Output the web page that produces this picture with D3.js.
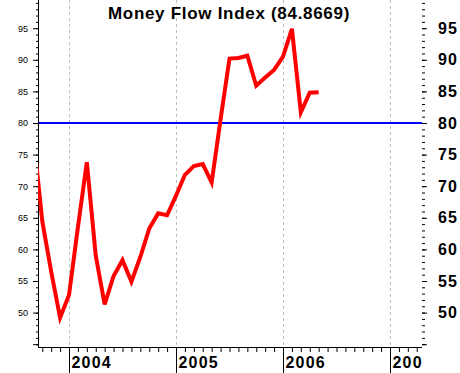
<!DOCTYPE html>
<html>
<head>
<meta charset="utf-8">
<script src="https://cdn.jsdelivr.net/npm/d3@7"></script>
<style>
    body { margin: 0; background: #fff; }
    svg { display: block; font-family: Arial, "Liberation Sans", sans-serif; }
</style>
</head>
<body>
<div id="chart"></div>
<script>
// monthly readings of the money flow index
const months = ['2003-09', '2003-10', '2003-11', '2003-12',
    '2004-01', '2004-02', '2004-03', '2004-04', '2004-05', '2004-06',
    '2004-07', '2004-08', '2004-09', '2004-10', '2004-11', '2004-12',
    '2005-01', '2005-02', '2005-03', '2005-04', '2005-05', '2005-06',
    '2005-07', '2005-08', '2005-09', '2005-10', '2005-11', '2005-12',
    '2006-01', '2006-02', '2006-03', '2006-04', '2006-05']
const mfi = [78.0, 64.5, 56.5, 49.2,
    52.8, 63.5, 73.8, 59.0, 51.3, 55.8,
    58.3, 54.9, 58.8, 63.3, 65.7, 65.4,
    68.5, 71.8, 73.2, 73.5, 70.6, 80.6,
    90.2, 90.3, 90.65, 85.9, 87.2, 88.4,
    90.5, 94.9, 81.7, 84.8, 84.8669]
const yearTicks = ['2004', '2005', '2006', '2007']
const valueTicks = [45, 50, 55, 60, 65, 70, 75, 80, 85, 90, 95]
const refLevel = 80
const title = 'Money Flow Index (84.8669)'

const monthIndex = (s) => {
    const [yy, mm] = s.split('-').map(Number)
    return (yy - 2004) * 12 + (mm - 1)
}

class MfiChart {

    constructor(container) {
        this.container = container
        this.svg = d3.select(container).append('svg')
        this.width = 460
        this.height = 373
        this.left = 38
        this.right = 422
        this.top = 0
        this.bottom = 347
        this.draw()
    }

    draw() {
        this.svg.attr('width', this.width).attr('height', this.height)

        this.svg.append('defs').append('clipPath')
            .attr('id', 'plotClip')
            .append('rect')
            .attr('x', this.left)
            .attr('y', this.top)
            .attr('width', this.right - this.left)
            .attr('height', this.bottom - this.top)

        this.svg.select('defs').append('clipPath')
            .attr('id', 'yearClip')
            .append('rect')
            .attr('x', 0)
            .attr('y', 0)
            .attr('width', this.right)
            .attr('height', this.height)

        this.generateScales()
        this.drawGrid()
        this.generateAxis()
        this.drawLine()

        this.svg.append('text')
            .text(title)
            .attr('x', 229)
            .attr('y', 19)
            .attr('text-anchor', 'middle')
            .style('font-size', '17px')
            .style('font-weight', 'bold')
            .style('letter-spacing', '0.7px')
            .attr('fill', '#000')
    }

    generateScales() {
        // one year = 107px, Jan 2004 sits at x=69
        this.xScale = d3.scaleLinear().domain([0, 12]).range([69, 176])
        this.xScale.domain([this.xScale.invert(this.left), this.xScale.invert(this.right)])
            .range([this.left, this.right])

        this.yScale = d3.scaleLinear().domain([80, 95]).range([123, 28.2])
    }

    drawGrid() {
        const x = this.xScale
        this.svg.append('g')
            .attr('class', 'grid')
            .selectAll('line')
            .data(yearTicks)
            .enter()
            .append('line')
            .attr('x1', (d) => Math.floor(x(monthIndex(d + '-01'))) + 0.5)
            .attr('x2', (d) => Math.floor(x(monthIndex(d + '-01'))) + 0.5)
            .attr('y1', this.top)
            .attr('y2', this.bottom)
            .attr('stroke', '#c0c0c0')
            .attr('stroke-dasharray', '3,3')

        this.svg.append('line')
            .attr('x1', this.left)
            .attr('x2', this.right)
            .attr('y1', this.yScale(refLevel))
            .attr('y2', this.yScale(refLevel))
            .attr('stroke', '#0000ff')
            .attr('stroke-width', 2)
    }

    generateAxis() {
        const y = this.yScale
        const x = this.xScale
        const minor = d3.range(45, 100)

        // left: small labels
        const leftMinor = d3.axisLeft(y).tickValues(minor).tickSize(2).tickFormat('')
        const leftMajor = d3.axisLeft(y).tickValues(valueTicks).tickSize(5)
            .tickPadding(5)
            .tickFormat((d) => d === 45 ? '' : d)

        const gl = this.svg.append('g').attr('id', 'y-axis-left')
            .attr('transform', `translate(${this.left}, 0)`)
        gl.append('g').call(leftMinor)
        gl.append('g').call(leftMajor)
            .selectAll('text')
            .style('font-size', '9px')
            .style('font-family', 'Arial, "Liberation Sans", sans-serif')
            .attr('fill', '#000')
        gl.selectAll('.domain').remove()
        gl.append('line')
            .attr('x1', 0.5).attr('x2', 0.5)
            .attr('y1', this.top).attr('y2', this.bottom + 1)
            .attr('stroke', '#000')

        // right: big bold labels, no spine
        const rightMinor = d3.axisRight(y).tickValues(minor).tickSize(3).tickFormat('')
        const rightMajor = d3.axisRight(y).tickValues(valueTicks).tickSize(5)
            .tickPadding(11)
            .tickFormat((d) => d === 45 ? '' : d)

        const gr = this.svg.append('g').attr('id', 'y-axis-right')
            .attr('transform', `translate(${this.right}, 0)`)
        gr.append('g').call(rightMinor)
        gr.append('g').call(rightMajor)
            .selectAll('text')
            .style('font-size', '16px')
            .style('font-weight', 'bold')
            .style('letter-spacing', '1.2px')
            .style('font-family', 'Arial, "Liberation Sans", sans-serif')
            .attr('fill', '#000')
        gr.selectAll('.domain').remove()

        // bottom: month ticks plus long year ticks
        const monthAxis = d3.axisBottom(x).tickValues(d3.range(-3, 40)).tickSize(5).tickFormat('')
        const yearAxis = d3.axisBottom(x)
            .tickValues(yearTicks.map((d) => monthIndex(d + '-01')))
            .tickSize(26)
            .tickFormat((d, i) => yearTicks[i])

        const gb = this.svg.append('g').attr('id', 'x-axis')
            .attr('transform', `translate(0, ${this.bottom})`)
        gb.append('g').call(monthAxis)
            .select('.domain')
            .attr('d', `M${this.left},0.5H${this.right}`)
        gb.append('g').call(yearAxis)
            .attr('clip-path', 'url(#yearClip)')
            .call((g) => g.select('.domain').remove())
            .selectAll('text')
            .attr('text-anchor', 'start')
            .attr('x', 2)
            .attr('y', 10)
            .attr('dy', '0.71em')
            .style('font-size', '16px')
            .style('font-weight', 'bold')
            .style('letter-spacing', '1.2px')
            .style('font-family', 'Arial, "Liberation Sans", sans-serif')
            .attr('fill', '#000')
    }

    drawLine() {
        const data = months.map((m, i) => ({ m: monthIndex(m), value: mfi[i] }))
        const line = d3.line()
            .x((d) => this.xScale(d.m))
            .y((d) => this.yScale(d.value))

        this.svg.append('path')
            .datum(data)
            .attr('clip-path', 'url(#plotClip)')
            .attr('d', line)
            .attr('fill', 'none')
            .attr('stroke', '#ff0000')
            .attr('stroke-width', 4)
            .attr('stroke-linejoin', 'miter')
    }
}

new MfiChart(document.getElementById('chart'))
</script>
</body>
</html>
